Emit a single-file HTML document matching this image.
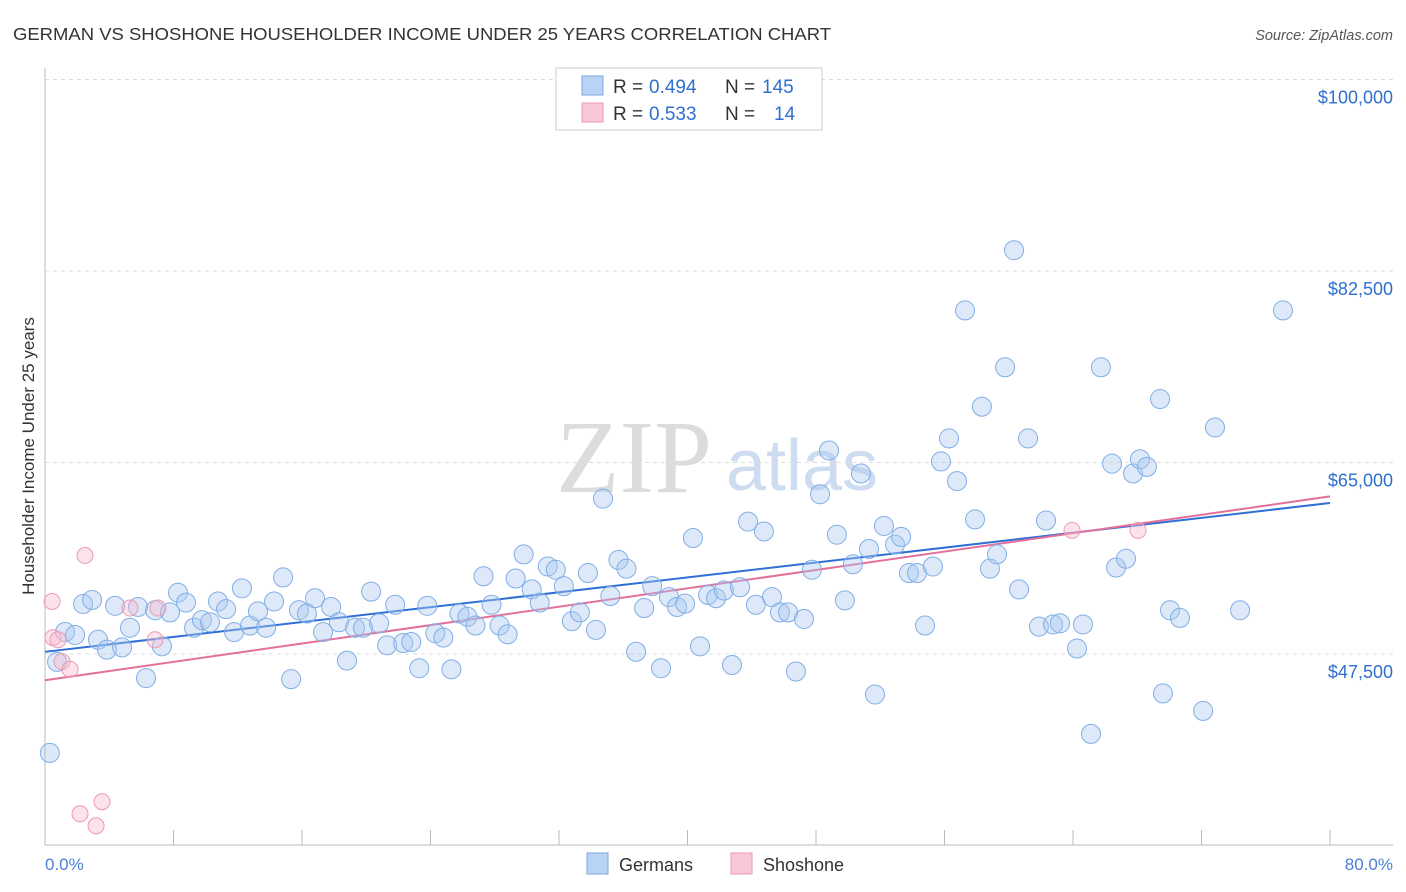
<!DOCTYPE html>
<html><head><meta charset="utf-8"><style>
body{margin:0;background:#fff;font-family:"Liberation Sans",sans-serif;}
svg{display:block}
</style></head><body>
<svg id="chart" width="1406" height="892">
<text x="13" y="40" font-size="17.5" fill="#333" textLength="818" lengthAdjust="spacingAndGlyphs">GERMAN VS SHOSHONE HOUSEHOLDER INCOME UNDER 25 YEARS CORRELATION CHART</text>
<text x="1393" y="40" font-size="14.5" fill="#555" text-anchor="end" font-style="italic">Source: ZipAtlas.com</text>
<g>
<text x="634" y="492" font-size="104" fill="#dcdcdc" font-family="Liberation Serif,serif" text-anchor="middle">ZIP</text>
<text x="802" y="490" font-size="72" fill="#cddcf0" text-anchor="middle">atlas</text>
</g>
<g id="grid"></g>
<g id="axes"></g>
<g id="lines"></g>
<g id="points"></g>
<text transform="translate(34,456) rotate(-90)" font-size="17" fill="#333" text-anchor="middle">Householder Income Under 25 years</text>
<text x="45" y="870" font-size="17" fill="#4a7fd6">0.0%</text>
<text x="1393" y="870" font-size="17" fill="#4a7fd6" text-anchor="end">80.0%</text>
<g>
<rect x="556" y="68" width="266" height="62" fill="#fff" stroke="#ccc"/>
<rect x="582" y="76" width="21" height="19" fill="#b9d3f5" stroke="#7aa7e0"/>
<rect x="582" y="103" width="21" height="19" fill="#f9c8d6" stroke="#ea9ab2"/>
<text x="613" y="93" font-size="19" fill="#333">R =</text>
<text x="649" y="93" font-size="19" fill="#2f6fd0">0.494</text>
<text x="725" y="93" font-size="19" fill="#333">N =</text>
<text x="762" y="93" font-size="19" fill="#2f6fd0">145</text>
<text x="613" y="120" font-size="19" fill="#333">R =</text>
<text x="649" y="120" font-size="19" fill="#2f6fd0">0.533</text>
<text x="725" y="120" font-size="19" fill="#333">N =</text>
<text x="774" y="120" font-size="19" fill="#2f6fd0">14</text>
</g>
<g>
<rect x="587" y="853" width="21" height="21" fill="#b9d3f5" stroke="#7aa7e0"/>
<text x="619" y="871" font-size="18" fill="#333">Germans</text>
<rect x="731" y="853" width="21" height="21" fill="#f9c8d6" stroke="#ea9ab2"/>
<text x="763" y="871" font-size="18" fill="#333">Shoshone</text>
</g>
</svg>
<script>
const yTicks=[47.5,65,82.5,100];
const yTickLabels=["$47,500","$65,000","$82,500","$100,000"];
const xTicks=[0,8,16,24,32,40,48,56,64,72,80];
const germanX=[0.3,0.75,1.25,1.87,2.37,2.93,3.3,3.86,4.36,4.8,5.29,5.79,6.29,6.85,7.28,7.78,8.28,8.78,9.28,9.77,10.27,10.77,11.27,11.77,12.26,12.76,13.26,13.76,14.26,14.82,15.32,15.81,16.31,16.81,17.31,17.81,18.3,18.8,19.3,19.8,20.3,20.8,21.3,21.8,22.3,22.8,23.3,23.8,24.3,24.8,25.3,25.8,26.3,26.8,27.3,27.8,28.3,28.8,29.3,29.8,30.3,30.8,31.3,31.8,32.3,32.8,33.3,33.8,34.3,34.74,35.2,35.7,36.2,36.8,37.3,37.8,38.35,38.85,39.35,39.85,40.34,40.78,41.28,41.78,42.27,42.77,43.27,43.77,44.26,44.76,45.26,45.76,46.26,46.75,47.25,47.75,48.25,48.81,49.3,49.8,50.3,50.8,51.3,51.67,52.23,52.92,53.3,53.79,54.29,54.79,55.28,55.78,56.28,56.78,57.28,57.9,58.33,58.83,59.27,59.77,60.33,60.64,61.2,61.88,62.32,62.76,63.19,64.25,64.62,65.12,65.74,66.43,66.68,67.3,67.74,68.17,68.6,69.42,69.6,70.04,70.66,72.1,72.84,74.4,77.07];
const germanY=[38.46,46.78,49.51,49.24,52.07,52.44,48.8,47.9,51.9,48.1,49.9,51.8,45.3,51.5,48.2,51.3,53.1,52.2,49.9,50.6,50.4,52.3,51.6,49.5,53.5,50.1,51.4,49.9,52.3,54.5,45.2,51.5,51.2,52.6,49.5,51.8,50.4,46.9,49.9,49.9,53.2,50.3,48.3,52.0,48.5,48.6,46.2,51.9,49.4,49.0,46.1,51.2,50.9,50.1,54.6,52.0,50.1,49.3,54.4,56.6,53.4,52.2,55.5,55.2,53.7,50.5,51.3,54.9,49.7,61.7,52.8,56.1,55.3,47.7,51.7,53.7,46.2,52.7,51.8,52.1,58.1,48.2,52.9,52.6,53.3,46.5,53.6,59.6,52.0,58.7,52.7,51.3,51.3,45.9,50.7,55.2,62.1,66.1,58.4,52.4,55.7,64.0,57.1,43.8,59.2,57.5,58.2,54.9,54.9,50.1,55.5,65.1,67.2,63.3,78.9,59.8,70.1,55.3,56.6,73.7,84.4,53.4,67.2,50.0,59.7,50.2,50.3,48.0,50.2,40.2,73.7,64.9,55.4,56.2,64.0,65.3,64.6,70.8,43.9,51.5,50.8,42.3,68.2,51.5,78.9];
const shoshoneX=[0.44,0.5,0.81,1.06,1.56,2.18,2.49,3.18,3.55,5.29,6.85,7.03,63.94,68.05];
const shoshoneY=[52.3,49.0,48.8,46.8,46.1,32.9,56.5,31.8,34.0,51.7,48.8,51.7,58.8,58.8];
const germanTrend=[47.7,61.3];
const shoshoneTrend=[45.1,61.9];
const trendX=[0,80];

const NS="http://www.w3.org/2000/svg";
function sx(v){return 45+v/80*1285;}
function sy(v){return 79.5+(100-v)/17.5*191.5;}
function mk(tag,attrs,parent){const e=document.createElementNS(NS,tag);for(const k in attrs)e.setAttribute(k,attrs[k]);document.getElementById(parent).appendChild(e);return e;}

yTicks.forEach((t,i)=>{
  const g=mk('line',{x1:45,x2:1393,y1:sy(t),y2:sy(t),stroke:'#ddd','stroke-dasharray':'4,4'},'grid');
  
  
  const l=mk('text',{x:1393,y:sy(t)+24,'font-size':18,fill:'#2f6fd0','text-anchor':'end'},'grid');
  l.textContent=yTickLabels[i];
  
  
});
const ya=mk('line',{x1:45,x2:45,y1:68,y2:845,stroke:'#bbb'},'axes');


const xa=mk('line',{x1:45,x2:1393,y1:845,y2:845,stroke:'#bbb'},'axes');


xTicks.forEach(t=>{
  const k=mk('line',{x1:sx(t),x2:sx(t),y1:830,y2:845,stroke:'#bbb'},'axes');
  
  
});
germanX.forEach((x,i)=>{
  const c=mk('circle',{cx:sx(x),cy:sy(germanY[i]),r:9.5,fill:'rgba(170,200,240,0.4)',stroke:'#80aee6','stroke-width':1},'points');
  
  
});
shoshoneX.forEach((x,i)=>{
  const c=mk('circle',{cx:sx(x),cy:sy(shoshoneY[i]),r:8,fill:'rgba(247,185,205,0.4)',stroke:'#eb9ab4','stroke-width':1},'points');
  
  
});
const bl=mk('line',{x1:sx(trendX[0]),x2:sx(trendX[1]),y1:sy(germanTrend[0]),y2:sy(germanTrend[1]),stroke:'#2f6fd6','stroke-width':2},'lines');


const pl=mk('line',{x1:sx(trendX[0]),x2:sx(trendX[1]),y1:sy(shoshoneTrend[0]),y2:sy(shoshoneTrend[1]),stroke:'#e4709a','stroke-width':2},'lines');


</script>
</body></html>
